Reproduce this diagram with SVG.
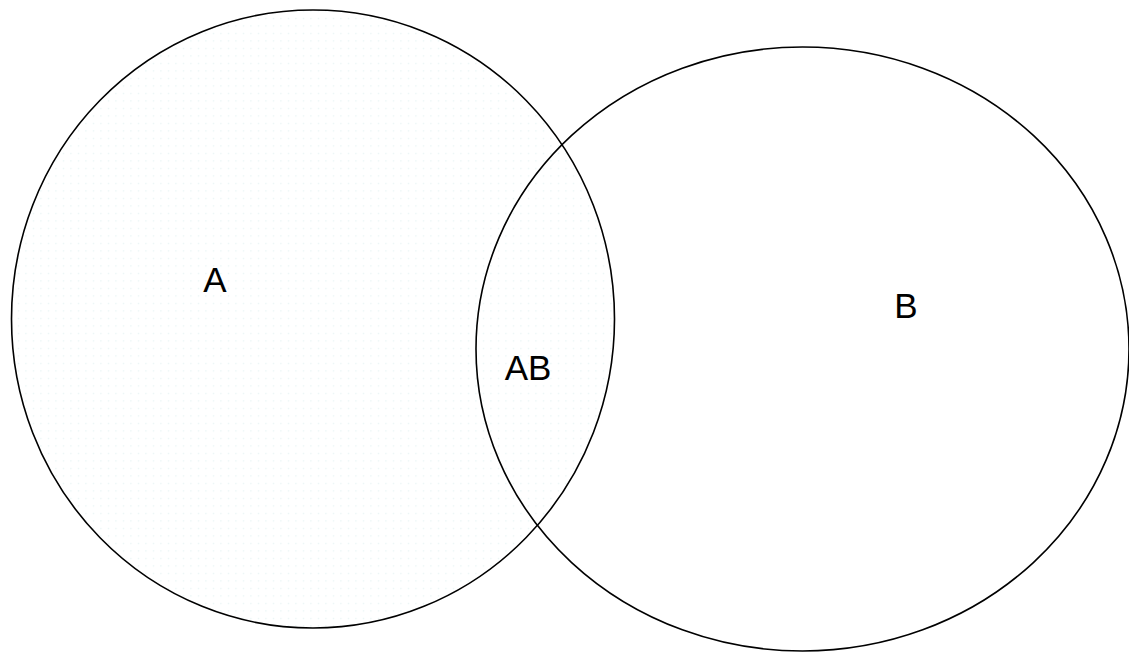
<svg xmlns="http://www.w3.org/2000/svg" width="1129" height="652" viewBox="0 0 1129 652">
<style>
.set{stroke:#000;stroke-width:1.6}
.lbl{font-family:"Liberation Sans",Arial,sans-serif;font-size:35px;fill:#000;text-anchor:middle}
</style>
<defs>
<pattern id="dots" x="0" y="0" width="7.5" height="7.5" patternUnits="userSpaceOnUse">
<rect x="3" y="3" width="1" height="1" fill="#d6ecec"/>
</pattern>
</defs>
<rect width="1129" height="652" fill="#fff"/>
<g id="setA">
<ellipse cx="313" cy="319" rx="301.5" ry="309" fill="url(#dots)" class="set"/>
</g>
<g id="setB">
<ellipse cx="802.5" cy="349" rx="326.5" ry="302" fill="none" class="set"/>
</g>
<g id="labels">
<text class="lbl" x="215" y="292">A</text>
<text class="lbl" x="906" y="318">B</text>
<text class="lbl" x="528" y="380">AB</text>
</g>
<g id="connectors"/>
</svg>
